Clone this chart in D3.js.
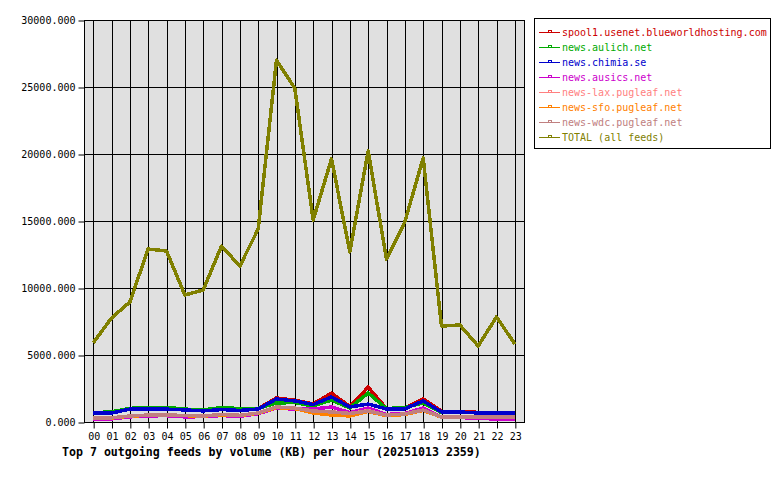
<!DOCTYPE html>
<html>
<head>
<meta charset="utf-8">
<script src="https://cdn.jsdelivr.net/npm/d3@7"></script>
<style>
  body { margin: 0; background: #fff; }
  text { font-family: "DejaVu Sans Mono", monospace; }
</style>
</head>
<body>
<div id="chart"></div>
<script>
// hours on the x axis
const hours = ["00","01","02","03","04","05","06","07","08","09","10","11",
               "12","13","14","15","16","17","18","19","20","21","22","23"];

const yTicks = [0, 5000, 10000, 15000, 20000, 25000, 30000];

// series, KB per hour
const spool1 = [700, 720, 980, 1000, 1020, 920, 860, 960, 900, 1000, 1800, 1620,
                1350, 2160, 1150, 2600, 1000, 1020, 1720, 800, 780, 720, 680, 680];
const aulich = [690, 760, 1020, 1060, 1100, 960, 900, 1080, 1000, 1020, 1420, 1450,
                1190, 1640, 1050, 2160, 1000, 1080, 1420, 700, 720, 700, 640, 650];
const chimia = [670, 670, 960, 970, 960, 900, 830, 930, 860, 970, 1720, 1570,
                1300, 1870, 1120, 1340, 970, 980, 1570, 750, 750, 670, 670, 670];
const ausics = [220, 230, 380, 460, 470, 380, 400, 480, 420, 620, 1050, 950,
                970, 1120, 700, 1040, 560, 640, 1040, 350, 340, 260, 230, 220];
const lax    = [300, 310, 440, 510, 520, 480, 450, 560, 500, 660, 1100, 1020,
                800, 760, 620, 850, 520, 580, 880, 370, 370, 360, 370, 360];
const sfo    = [290, 300, 430, 500, 510, 470, 440, 540, 490, 650, 1080, 1000,
                680, 520, 450, 780, 470, 560, 860, 360, 360, 350, 360, 350];
const wdc    = [300, 310, 450, 520, 520, 490, 450, 560, 500, 670, 1120, 1040,
                820, 750, 640, 820, 520, 600, 900, 370, 370, 370, 370, 370];
const total  = [5900, 7760, 8950, 12910, 12760, 9480, 9850, 13130, 11640, 14400, 27000, 24900,
                15080, 19630, 12690, 20220, 12160, 14930, 19700, 7160, 7240, 5670, 7840, 5820];

const seriesNames = ["spool1.usenet.blueworldhosting.com", "news.aulich.net", "news.chimia.se",
                     "news.ausics.net", "news-lax.pugleaf.net", "news-sfo.pugleaf.net",
                     "news-wdc.pugleaf.net", "TOTAL (all feeds)"];
const seriesValues = [spool1, aulich, chimia, ausics, lax, sfo, wdc, total];
const seriesColors = ["#cc0000", "#00aa00", "#0000cc", "#cc00cc", "#ff8080", "#ff8000", "#c08080", "#808000"];

const width = 780, height = 480;
const plot = { left: 84, right: 524, top: 20, bottom: 422 };

const svg = d3.select("#chart").append("svg")
  .attr("width", width)
  .attr("height", height);

const xScale = d3.scalePoint()
  .domain(hours)
  .range([plot.left, plot.right])
  .padding(0.5);

const yScale = d3.scaleLinear()
  .domain([0, 30000])
  .range([plot.bottom, plot.top]);

// plot background
svg.append("rect")
  .attr("x", plot.left)
  .attr("y", plot.top)
  .attr("width", plot.right - plot.left)
  .attr("height", plot.bottom - plot.top)
  .attr("fill", "#e0e0e0");

// grid
svg.append("g")
  .selectAll("line")
  .data(hours)
  .join("line")
  .attr("x1", d => Math.round(xScale(d)) + 0.5)
  .attr("x2", d => Math.round(xScale(d)) + 0.5)
  .attr("y1", plot.top)
  .attr("y2", plot.bottom)
  .attr("stroke", "#000");

svg.append("g")
  .selectAll("line")
  .data(yTicks)
  .join("line")
  .attr("x1", plot.left)
  .attr("x2", plot.right)
  .attr("y1", d => Math.round(yScale(d)) + 0.5)
  .attr("y2", d => Math.round(yScale(d)) + 0.5)
  .attr("stroke", "#000");

// frame
svg.append("rect")
  .attr("x", plot.left + 0.5)
  .attr("y", plot.top + 0.5)
  .attr("width", plot.right - plot.left)
  .attr("height", plot.bottom - plot.top)
  .attr("fill", "none")
  .attr("stroke", "#000");

// axes
const yAxis = d3.axisLeft(yScale)
  .tickValues(yTicks)
  .tickSize(6)
  .tickPadding(3)
  .tickFormat(d3.format(".3f"));

const yAxisGroup = svg.append("g")
  .attr("transform", `translate(${plot.left + 0.5}, 0.5)`)
  .call(yAxis);

const xAxis = d3.axisBottom(xScale)
  .tickSize(6)
  .tickPadding(4);

const xAxisGroup = svg.append("g")
  .attr("transform", `translate(0.5, ${plot.bottom + 0.5})`)
  .call(xAxis);

[yAxisGroup, xAxisGroup].forEach(g => {
  g.select(".domain").remove();
  g.selectAll("line").attr("stroke", "#000");
  g.selectAll("text")
    .attr("fill", "#000")
    .style("font-family", "'DejaVu Sans Mono', monospace")
    .style("font-size", "10px");
});

// lines
const lineFunc = d3.line()
  .x((d, i) => xScale(hours[i]))
  .y(d => yScale(d));

svg.append("g")
  .selectAll("path")
  .data(seriesValues)
  .join("path")
  .attr("fill", "none")
  .attr("stroke", (d, i) => seriesColors[i])
  .attr("stroke-width", 3.5)
  .attr("stroke-linejoin", "round")
  .attr("shape-rendering", "crispEdges")
  .attr("d", lineFunc);

// title
svg.append("text")
  .attr("x", 62)
  .attr("y", 456)
  .attr("font-size", "11.6px")
  .attr("font-weight", "bold")
  .text("Top 7 outgoing feeds by volume (KB) per hour (20251013 2359)");

// legend
const legend = svg.append("g");
legend.append("rect")
  .attr("x", 534.5)
  .attr("y", 18.5)
  .attr("width", 236)
  .attr("height", 130)
  .attr("fill", "#fff")
  .attr("stroke", "#000");

const items = legend.selectAll("g.item")
  .data(seriesNames)
  .join("g")
  .attr("class", "item")
  .attr("transform", (d, i) => `translate(0, ${33 + i * 15})`);

items.append("line")
  .attr("x1", 539).attr("x2", 560)
  .attr("y1", -0.5).attr("y2", -0.5)
  .attr("stroke", (d, i) => seriesColors[i]);

items.append("rect")
  .attr("x", 548.5).attr("y", -2.5)
  .attr("width", 3).attr("height", 2)
  .attr("fill", "none")
  .attr("stroke", (d, i) => seriesColors[i]);

items.append("text")
  .attr("x", 562)
  .attr("y", 3)
  .attr("font-size", "10px")
  .attr("fill", (d, i) => seriesColors[i])
  .text(d => d);
</script>
</body>
</html>
